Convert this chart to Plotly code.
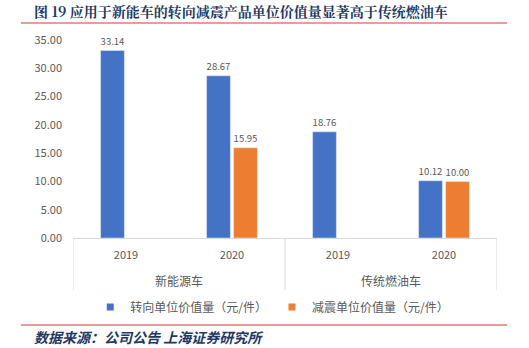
import plotly.graph_objects as go

groups = ["新能源车", "传统燃油车"]
years = ["2019", "2020", "2019", "2020"]
categories = ["新能源车 2019", "新能源车 2020", "传统燃油车 2019", "传统燃油车 2020"]
steer = [33.14, 28.67, 18.76, 10.12]
damp = [None, 15.95, None, 10.00]
series_names = ["转向单位价值量（元/件）", "减震单位价值量（元/件）"]
colors = ["#4472C4", "#ED7D31"]
y_ticks = [0, 5, 10, 15, 20, 25, 30, 35]

FONT = "Noto Sans CJK SC"
GRAY = "#595959"
LINE = "#D9D9D9"
PLOT_H = 198
PLOT_W = 424

fig = go.Figure()
for vals, name, col in zip([steer, damp], series_names, colors):
    fig.add_trace(go.Bar(
        x=categories, y=vals, name=name, marker_color=col, showlegend=False,
        text=[f"{v:.2f}" if v is not None else "" for v in vals],
        textposition="outside", textfont=dict(color=GRAY, size=11), cliponaxis=False,
    ))
    # legend-only entry with small square marker
    fig.add_trace(go.Scatter(
        x=[categories[0]], y=[None], mode="markers", name=name,
        marker=dict(symbol="square", size=7, color=col), showlegend=True,
    ))

fig.update_layout(
    width=529, height=348,
    margin=dict(l=73, r=32, t=40, b=110),
    paper_bgcolor="white", plot_bgcolor="white",
    font=dict(family=FONT, size=11, color=GRAY),
    barmode="group", bargap=0.49, bargroupgap=0.12,
    showlegend=True,
    legend=dict(orientation="h", x=0.47, xanchor="center", y=-(307 - 238) / PLOT_H,
                yanchor="middle", font=dict(size=12, color=GRAY),
                itemwidth=30, tracegroupgap=0),
    xaxis=dict(
        type="category", showline=True, linecolor=LINE, linewidth=1,
        tickvals=categories, ticktext=years, ticklabelstandoff=7,
        tickfont=dict(size=11, color=GRAY), showgrid=False, ticks="",
        range=[-0.5, 3.5],
    ),
    yaxis=dict(
        range=[0, 35], tickvals=y_ticks, tickformat=".2f", showgrid=False,
        zeroline=False, showline=False, ticklabelstandoff=10,
        tickfont=dict(size=11, color=GRAY),
    ),
)

# group labels under year labels
for i, g in enumerate(groups):
    fig.add_annotation(
        text=g, xref="x", yref="paper", x=2 * i + 0.5, y=-(280 - 238) / PLOT_H,
        xanchor="center", yanchor="middle", showarrow=False,
        font=dict(family=FONT, size=12, color=GRAY),
    )
# category box dividers
for xv in (-0.5, 1.5, 3.5):
    fig.add_shape(type="line", xref="x", yref="paper", x0=xv, x1=xv,
                  y0=0, y1=-(290 - 238) / PLOT_H, line=dict(color=LINE, width=1))

# Title
fig.add_annotation(
    text="<b>图 19 应用于新能车的转向减震产品单位价值量显著高于传统燃油车</b>",
    xref="paper", yref="paper", x=(32 - 73) / PLOT_W, y=(238 - 11) / PLOT_H,
    xanchor="left", yanchor="middle", showarrow=False,
    font=dict(family="Noto Serif CJK SC, Noto Sans CJK SC", size=14, color="#1F3864"),
)
# Source
fig.add_annotation(
    text="<b><i>数据来源：公司公告 上海证券研究所</i></b>",
    xref="paper", yref="paper", x=(32 - 73) / PLOT_W, y=(238 - 337) / PLOT_H,
    xanchor="left", yanchor="middle", showarrow=False,
    font=dict(family=FONT, size=14, color="#1F3864"),
)
for ypx in (23, 325):
    fig.add_shape(
        type="line", xref="paper", yref="paper",
        x0=(21 - 73) / PLOT_W, x1=(507 - 73) / PLOT_W,
        y0=(238 - ypx) / PLOT_H, y1=(238 - ypx) / PLOT_H,
        line=dict(color="#E8787A", width=1.5),
    )

fig.write_html("out.html")
